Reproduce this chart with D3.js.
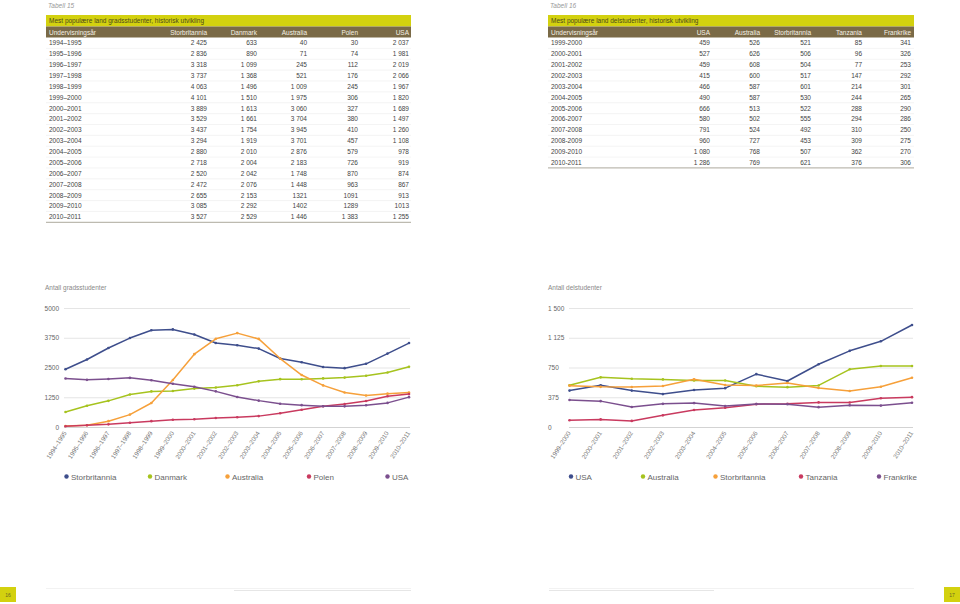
<!DOCTYPE html>
<html>
<head>
<meta charset="utf-8">
<script src="https://cdn.jsdelivr.net/npm/d3@7"></script>
<style>
  body { margin: 0; background: #fff; }
  svg { display: block; font-family: "Liberation Sans", Arial, sans-serif; }
</style>
</head>
<body>
<svg id="page" width="960" height="604"></svg>
<script>
// ---- data: tabell 15 / gradsstudenter ----
const years15 = ["1994–1995", "1995–1996", "1996–1997", "1997–1998", "1998–1999", "1999–2000",
  "2000–2001", "2001–2002", "2002–2003", "2003–2004", "2004–2005", "2005–2006", "2006–2007",
  "2007–2008", "2008–2009", "2009–2010", "2010–2011"];
const countries15 = ["Storbritannia", "Danmark", "Australia", "Polen", "USA"];
const storbritannia15 = [2425, 2836, 3318, 3737, 4063, 4101, 3889, 3529, 3437, 3294, 2880, 2718, 2520, 2472, 2655, 3085, 3527];
const danmark15 = [633, 890, 1099, 1368, 1496, 1510, 1613, 1661, 1754, 1919, 2010, 2004, 2042, 2076, 2153, 2292, 2529];
const australia15 = [40, 71, 245, 521, 1009, 1975, 3060, 3704, 3945, 3701, 2876, 2183, 1748, 1448, 1321, 1402, 1446];
const polen15 = [30, 74, 112, 176, 245, 306, 327, 380, 410, 457, 579, 726, 870, 963, 1091, 1289, 1383];
const usa15 = [2037, 1981, 2019, 2066, 1967, 1820, 1689, 1497, 1260, 1108, 978, 919, 874, 867, 913, 1013, 1255];
const ticks15 = [0, 1250, 2500, 3750, 5000];

// ---- data: tabell 16 / delstudenter ----
const years16 = ["1999-2000", "2000-2001", "2001-2002", "2002-2003", "2003-2004", "2004-2005",
  "2005-2006", "2006-2007", "2007-2008", "2008-2009", "2009-2010", "2010-2011"];
const countries16 = ["USA", "Australia", "Storbritannia", "Tanzania", "Frankrike"];
const usa16 = [459, 527, 459, 415, 466, 490, 666, 580, 791, 960, 1080, 1286];
const australia16 = [526, 626, 608, 600, 587, 587, 513, 502, 524, 727, 768, 769];
const storbritannia16 = [521, 506, 504, 517, 601, 530, 522, 555, 492, 453, 507, 621];
const tanzania16 = [85, 96, 77, 147, 214, 244, 288, 294, 310, 309, 362, 376];
const frankrike16 = [341, 326, 253, 292, 301, 265, 290, 286, 250, 275, 270, 306];
const ticks16 = [0, 375, 750, 1125, 1500];

const colors = ["#3e4e8c", "#a6c31e", "#f6a03a", "#c93a5f", "#7b4f8e"];
const svg = d3.select("#page");

const fmtSp = d3.formatLocale({ decimal: ",", thousands: " ", grouping: [3] }).format(",d");
// some cells in the source are printed without the thousands space
const plain15 = { "2008–2009": [2, 3, 4], "2009–2010": [2, 3, 4] };

function drawTable(opt) {
  const g = svg.append("g");
  g.append("text").attr("x", opt.x0 + 2).attr("y", 8)
    .attr("font-size", 6.5).attr("fill", "#999").attr("font-style", "italic").text(opt.label);
  g.append("rect").attr("x", opt.x0).attr("y", 15).attr("width", opt.x1 - opt.x0).attr("height", 11.5)
    .attr("fill", "#d3d10f");
  g.append("text").attr("x", opt.x0 + 3).attr("y", 23.2).attr("font-size", 6.5).attr("fill", "#4d4a1c")
    .text(opt.title);
  g.append("rect").attr("x", opt.x0).attr("y", 26.5).attr("width", opt.x1 - opt.x0).attr("height", 11)
    .attr("fill", "#7a6a47");
  g.append("text").attr("x", opt.x0 + 3).attr("y", 34.5).attr("font-size", 6.5).attr("fill", "#f4f0e6")
    .text("Undervisningsår");
  opt.cols.forEach((c, j) => {
    g.append("text").attr("x", opt.colX[j]).attr("y", 34.5).attr("font-size", 6.5).attr("fill", "#f4f0e6")
      .attr("text-anchor", "end").text(c);
  });
  const rowY = d3.scaleLinear().domain([0, opt.rows.length - 1]).range([43, 43 + (opt.rows.length - 1) * 10.87]);
  opt.rows.forEach((r, i) => {
    const y = rowY(i);
    g.append("text").attr("x", opt.x0 + 3).attr("y", y + 2.4).attr("font-size", 6.5).attr("fill", "#444").text(r);
    opt.series.forEach((s, j) => {
      const noSp = opt.plain && opt.plain[r] && opt.plain[r].includes(j);
      g.append("text").attr("x", opt.colX[j]).attr("y", y + 2.4).attr("font-size", 6.5).attr("fill", "#444")
        .attr("text-anchor", "end").text(noSp ? String(s[i]) : fmtSp(s[i]));
    });
    const last = i === opt.rows.length - 1;
    g.append("line").attr("x1", opt.x0).attr("x2", opt.x1).attr("y1", y + 5.4).attr("y2", y + 5.4)
      .attr("stroke", last ? "#bdbab0" : "#ededed").attr("stroke-width", last ? 1.2 : 0.6);
  });
}

drawTable({ x0: 46, x1: 411, label: "Tabell 15", title: "Mest populære land gradsstudenter, historisk utvikling",
  cols: countries15, colX: [207, 257, 307, 358, 409], rows: years15,
  series: [storbritannia15, danmark15, australia15, polen15, usa15], plain: plain15 });
drawTable({ x0: 548, x1: 914, label: "Tabell 16", title: "Mest populære land delstudenter, historisk utvikling",
  cols: countries16, colX: [710, 760, 811, 862, 911], rows: years16,
  series: [usa16, australia16, storbritannia16, tanzania16, frankrike16] });

function drawChart(opt) {
  const g = svg.append("g");
  const x = d3.scalePoint().domain(opt.cats).range(opt.xr);
  const y = d3.scaleLinear().domain([0, d3.max(opt.ticks)]).range([427, 308]);

  g.append("text").attr("x", opt.titleX).attr("y", 290).attr("font-size", 6.5).attr("fill", "#888").text(opt.title);

  const yAxis = d3.axisLeft(y).tickValues(opt.ticks).tickSize(-(opt.gx[1] - opt.gx[0]))
    .tickFormat(opt.tickFmt);
  const ga = g.append("g").attr("transform", `translate(${opt.gx[0]},0)`).call(yAxis);
  ga.select(".domain").remove();
  ga.selectAll(".tick line").attr("stroke", d => d === 0 ? "#c8c8c8" : "#dedede").attr("stroke-width", 0.8);
  ga.selectAll(".tick text").attr("font-size", 6.5).attr("fill", "#666")
    .attr("text-anchor", opt.tickAnchor).attr("x", opt.tickX - opt.gx[0]);

  const xAxis = d3.axisBottom(x).tickSize(0).tickPadding(0);
  const gx = g.append("g").attr("transform", "translate(0,427)").call(xAxis);
  gx.select(".domain").remove();
  gx.selectAll(".tick text").attr("font-size", 6.3).attr("fill", "#777")
    .attr("text-anchor", "end").attr("dy", 0).attr("y", 0)
    .attr("transform", "translate(1,6) rotate(-57)").text(d => d.replace("-", "–"));

  const line = d3.line().x((d, i) => x(opt.cats[i])).y(d => y(d));
  opt.series.forEach((s, j) => {
    g.append("path").datum(s).attr("d", line).attr("fill", "none")
      .attr("stroke", colors[j]).attr("stroke-width", 1.5).attr("stroke-linejoin", "round");
    g.selectAll(null).data(s).enter().append("circle")
      .attr("cx", (d, i) => x(opt.cats[i])).attr("cy", d => y(d)).attr("r", 1.3).attr("fill", colors[j]);
  });

  opt.names.forEach((n, j) => {
    g.append("circle").attr("cx", opt.legX[j]).attr("cy", 476.5).attr("r", 2.2).attr("fill", colors[j]);
    g.append("text").attr("x", opt.legX[j] + 4.5).attr("y", 479.5).attr("font-size", 8).attr("fill", "#666").text(n);
  });
}

drawChart({ cats: years15, xr: [65.5, 409], ticks: ticks15, gx: [64, 410], title: "Antall gradsstudenter", titleX: 45,
  tickFmt: d3.format("d"), tickAnchor: "end", tickX: 59,
  series: [storbritannia15, danmark15, australia15, polen15, usa15], names: countries15,
  legX: [66.5, 150, 227.5, 309, 387.5] });
drawChart({ cats: years16, xr: [569.5, 912], ticks: ticks16, gx: [569, 913], title: "Antall delstudenter", titleX: 548,
  tickFmt: fmtSp, tickAnchor: "start", tickX: 548,
  series: [usa16, australia16, storbritannia16, tanzania16, frankrike16], names: countries16,
  legX: [571, 643, 715.5, 801, 879] });

// page footer
svg.append("line").attr("x1", 46).attr("x2", 411).attr("y1", 588.5).attr("y2", 588.5).attr("stroke", "#f2f2f2");
svg.append("line").attr("x1", 234).attr("x2", 411).attr("y1", 590.5).attr("y2", 590.5).attr("stroke", "#e6e6e6").attr("stroke-width", 1.2);
svg.append("line").attr("x1", 549).attr("x2", 914).attr("y1", 588.5).attr("y2", 588.5).attr("stroke", "#f2f2f2");
svg.append("line").attr("x1", 549).attr("x2", 714).attr("y1", 590.5).attr("y2", 590.5).attr("stroke", "#e6e6e6").attr("stroke-width", 1.2);
[[0, "16"], [944, "17"]].forEach(([px, t]) => {
  svg.append("rect").attr("x", px).attr("y", 587).attr("width", 16).attr("height", 15).attr("fill", "#d3d10f");
  svg.append("text").attr("x", px + 8).attr("y", 597).attr("font-size", 5).attr("fill", "#6b6a20")
    .attr("text-anchor", "middle").text(t);
});
</script>
</body>
</html>
